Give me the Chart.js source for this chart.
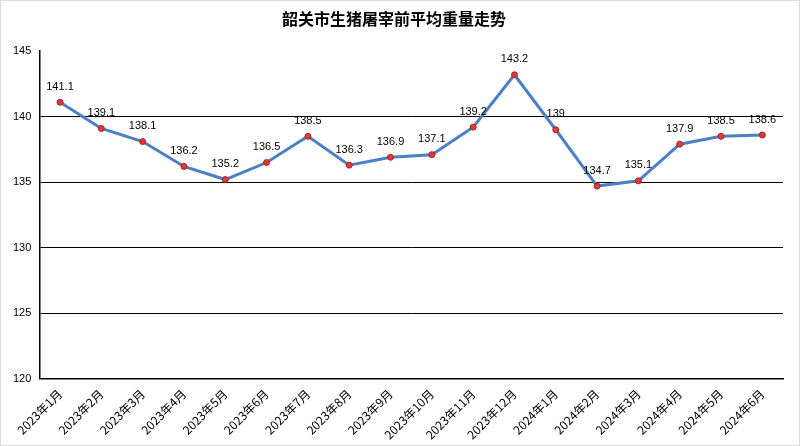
<!DOCTYPE html>
<html><head><meta charset="utf-8">
<script src="https://cdn.jsdelivr.net/npm/chart.js@4/dist/chart.umd.min.js"></script>
<style>
html,body{margin:0;padding:0;background:#fff;}
#wrap{position:absolute;left:0;top:0;width:798px;height:444px;border:1px solid #d9d9d9;}
</style></head><body>
<div id="wrap"><canvas id="c" width="798" height="444"></canvas></div>
<script>
const months = ['2023年1月','2023年2月','2023年3月','2023年4月','2023年5月','2023年6月','2023年7月','2023年8月','2023年9月','2023年10月','2023年11月','2023年12月','2024年1月','2024年2月','2024年3月','2024年4月','2024年5月','2024年6月'];
const weights = [141.1,139.1,138.1,136.2,135.2,136.5,138.5,136.3,136.9,137.1,139.2,143.2,139,134.7,135.1,137.9,138.5,138.6];
const yTicks = [120,125,130,135,140,145];

const labelPlugin = {
  id: 'pointLabels',
  afterDatasetsDraw(chart) {
    const ctx = chart.ctx;
    const meta = chart.getDatasetMeta(0);
    ctx.save();
    ctx.font = '11px "Liberation Sans", Arial, sans-serif';
    ctx.fillStyle = '#000';
    ctx.textAlign = 'center';
    ctx.textBaseline = 'bottom';
    meta.data.forEach((p, i) => {
      ctx.fillText(String(weights[i]), p.x, p.y - 10);
    });
    ctx.restore();
  }
};

new Chart(document.getElementById('c'), {
  type: 'line',
  data: {
    labels: months,
    datasets: [{
      data: weights,
      borderColor: '#4a80c4',
      borderWidth: 3,
      pointBackgroundColor: '#e03a3a',
      pointBorderColor: '#b02020',
      pointBorderWidth: 1,
      pointRadius: 3,
      tension: 0
    }]
  },
  options: {
    responsive: false,
    animation: false,
    layout: { padding: { left: 4, right: 16, top: 0, bottom: 0 } },
    plugins: {
      legend: { display: false },
      tooltip: { enabled: false },
      title: {
        display: true,
        text: '韶关市生猪屠宰前平均重量走势',
        font: { family: '"Noto Sans CJK SC"', size: 16, weight: 'bold' },
        color: '#000',
        padding: { top: 8, bottom: 23 }
      }
    },
    scales: {
      x: {
        offset: true,
        grid: { display: false, drawOnChartArea: false, drawTicks: true, tickLength: 5, color: '#000' },
        border: { color: '#000', width: 1.5 },
        ticks: {
          color: '#000', maxRotation: 45, minRotation: 45, autoSkip: false,
          font: { family: '"Noto Sans CJK SC"', size: 12 }
        }
      },
      y: {
        min: 120, max: 145,
        afterBuildTicks(axis) { axis.ticks = yTicks.map(v => ({ value: v })); },
        grid: {
          color: ctx => (ctx.tick && ctx.tick.value === 145) ? 'rgba(0,0,0,0)' : '#000',
          drawTicks: false, lineWidth: 1
        },
        border: { color: '#000', width: 1.5 },
        ticks: {
          color: '#000', padding: 8,
          font: { family: '"Liberation Sans", Arial, sans-serif', size: 11 }
        }
      }
    }
  },
  plugins: [labelPlugin]
});
</script>
</body></html>
